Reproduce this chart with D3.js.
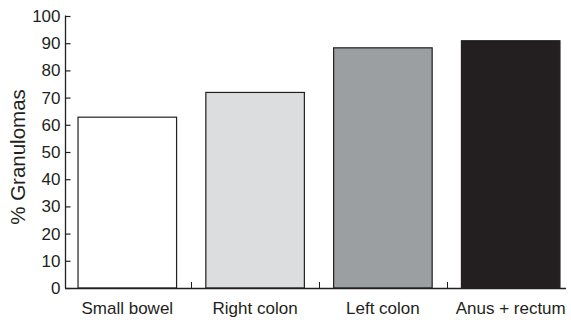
<!DOCTYPE html>
<html><head><meta charset="utf-8">
<script src="https://cdn.jsdelivr.net/npm/d3@7"></script>
<style>body{margin:0;background:#fff}svg{display:block}text{font-family:"Liberation Sans",Arial,sans-serif;fill:#231f20}</style>
</head><body>
<script>
const categories = ["Small bowel","Right colon","Left colon","Anus + rectum"];
const values = [62.8, 71.9, 88.3, 90.9];
const colors = ["#ffffff","#dcdddf","#9c9fa2","#231f20"];
const yTicks = [0,10,20,30,40,50,60,70,80,90,100];
const yLabel = "% Granulomas";

const W=571,H=320;
const svg=d3.select("body").append("svg").attr("width",W).attr("height",H);
const x=d3.scaleBand().domain(categories).range([65,573]).paddingInner(0.229).paddingOuter(0.102);
const y=d3.scaleLinear().domain([0,100]).range([288,16]);
const ink="#231f20";

svg.selectAll("rect.bar").data(categories).enter().append("rect")
  .attr("x",d=>x(d)).attr("width",x.bandwidth())
  .attr("y",(d,i)=>y(values[i])).attr("height",(d,i)=>y(0)-y(values[i]))
  .attr("fill",(d,i)=>colors[i]).attr("stroke",ink).attr("stroke-width",1.2);

// y axis
const ya=svg.append("g").attr("transform","translate(65.5,0)")
  .call(d3.axisLeft(y).tickValues(yTicks).tickSize(-5).tickPadding(5));
ya.select(".domain").attr("stroke",ink).attr("stroke-width",1.3).attr("d","M0,15.5V288");
ya.selectAll(".tick line").attr("stroke",ink).attr("stroke-width",1.2);
ya.selectAll(".tick text").attr("font-size",17).attr("font-family","Liberation Sans").attr("fill","#231f20");

// x axis baseline
svg.append("line").attr("x1",65).attr("x2",566).attr("y1",288.5).attr("y2",288.5).attr("stroke",ink).attr("stroke-width",1.3);
// boundary ticks
const step=x.step();
const bounds=categories.slice(1).map(d=>x(d)-x.paddingInner()*step/2);
svg.selectAll("line.bt").data(bounds).enter().append("line")
  .attr("x1",d=>Math.round(d)+0.5).attr("x2",d=>Math.round(d)+0.5)
  .attr("y1",282).attr("y2",288).attr("stroke",ink).attr("stroke-width",1);
// labels
svg.selectAll("text.xl").data(categories).enter().append("text")
  .attr("x",d=>x(d)+x.bandwidth()/2).attr("y",314)
  .attr("text-anchor","middle").attr("font-size",17).text(d=>d);
svg.append("text").attr("transform","translate(25,157) rotate(-90)")
  .attr("text-anchor","middle").attr("font-size",20.5).text(yLabel);
</script>
</body></html>
